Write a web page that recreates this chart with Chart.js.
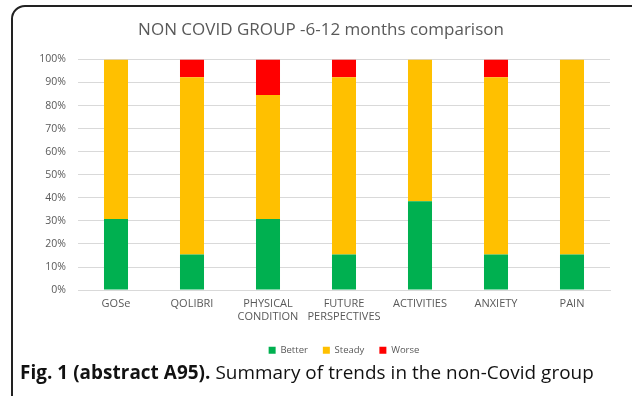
<!DOCTYPE html>
<html>
<head>
<meta charset="utf-8">
<script src="https://cdn.jsdelivr.net/npm/chart.js@4"></script>
<style>
  html, body { margin: 0; padding: 0; background: #fff; }
  body { width: 632px; height: 396px; position: relative; overflow: hidden; }
  #frame {
    position: absolute; left: 11px; top: 5px; width: 640px; height: 420px;
    border: 2px solid #222; border-radius: 14px; box-sizing: border-box;
  }
  #chartBox { position: absolute; left: 14px; top: 8px; width: 610px; height: 357px; }
  #caption {
    position: absolute; left: 20px; top: 360px; font-family: "Open Sans", sans-serif;
    font-size: 18.9px; line-height: 24px; color: #111; white-space: nowrap; letter-spacing: 0.05px;
  }
  #caption b { font-weight: 700; }
</style>
</head>
<body>
<div id="frame"></div>
<div id="chartBox"><canvas id="c"></canvas></div>
<div id="caption"><b>Fig. 1 (abstract A95).</b> Summary of trends in the non-Covid group</div>
<script>
// Outcome domains compared between 6 and 12 months
const categories = ['GOSe', 'QOLIBRI', ['PHYSICAL', 'CONDITION'], ['FUTURE', 'PERSPECTIVES'], 'ACTIVITIES', 'ANXIETY', 'PAIN'];
// Share of patients (%) per trend
const better = [30.8, 15.4, 30.8, 15.4, 38.5, 15.4, 15.4];
const steady = [69.2, 76.9, 53.8, 76.9, 61.5, 76.9, 84.6];
const worse  = [0,    7.7,  15.4, 7.7,  0,    7.7,  0];
const yTicks = ['0%', '10%', '20%', '30%', '40%', '50%', '60%', '70%', '80%', '90%', '100%'];

const textColor = '#595959';
const family = '"Open Sans", sans-serif';

// Center the legend under the plot area rather than the whole canvas
const legendUnderPlot = {
  id: 'legendUnderPlot',
  afterLayout(chart) {
    const lg = chart.legend, ca = chart.chartArea;
    if (!lg || !ca) return;
    const shift = (ca.left + ca.right) / 2 - (lg.left + lg.right) / 2;
    lg.left += shift;
    lg.right += shift;
  }
};

new Chart(document.getElementById('c'), {
  type: 'bar',
  data: {
    labels: categories,
    datasets: [
      { label: 'Better', data: better, backgroundColor: '#00B050' },
      { label: 'Steady', data: steady, backgroundColor: '#FFC000' },
      { label: 'Worse',  data: worse,  backgroundColor: '#FF0000' }
    ]
  },
  plugins: [legendUnderPlot],
  options: {
    responsive: true,
    maintainAspectRatio: false,
    animation: false,
    devicePixelRatio: 1,
    datasets: { bar: { categoryPercentage: 1, barPercentage: 0.316 } },
    layout: { padding: { left: 18, right: 14, top: 4, bottom: 0 } },
    plugins: {
      title: {
        display: true,
        text: 'NON COVID GROUP -6-12 months comparison',
        color: textColor,
        font: { family: family, size: 17, weight: 'normal' },
        padding: { top: 8, bottom: 19 }
      },
      legend: {
        position: 'bottom',
        labels: {
          color: textColor, font: { family: family, size: 9.5 }, boxWidth: 7, boxHeight: 7, padding: 15
        }
      },
      tooltip: { enabled: false }
    },
    scales: {
      x: {
        stacked: true,
        grid: { display: false, drawTicks: false },
        border: { color: '#D9D9D9' },
        ticks: { color: textColor, font: { family: family, size: 11 }, maxRotation: 0, autoSkip: false, padding: 7 }
      },
      y: {
        stacked: true,
        min: 0, max: 100,
        grid: { color: '#D9D9D9', drawTicks: false },
        border: { display: false },
        afterFit(scale) { scale.width = 46; },
        ticks: {
          stepSize: 10, color: textColor, font: { family: family, size: 10.5 }, padding: 12,
          callback: (v) => yTicks[Math.round(v / 10)]
        }
      }
    }
  }
});
</script>
</body>
</html>
